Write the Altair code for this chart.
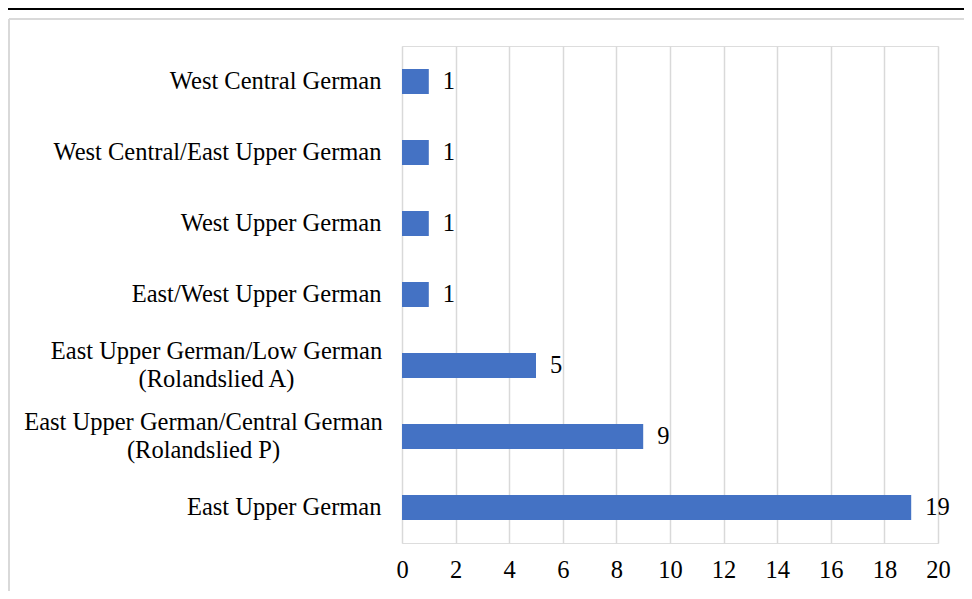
import altair as alt
import pandas as pd

categories = [
    "West Central German",
    "West Central/East Upper German",
    "West Upper German",
    "East/West Upper German",
    "East Upper German/Low German\n(Rolandslied A)",
    "East Upper German/Central German\n(Rolandslied P)",
    "East Upper German",
]
values = [1, 1, 1, 1, 5, 9, 19]
x_ticks = list(range(0, 21, 2))

df = pd.DataFrame({"cat": categories, "val": values})
FONT = "Liberation Serif"
FS = 24.5

W, H = 536, 497
PL, PT = 394, 38

multi = "indexof(datum.value, '\\n') >= 0"
lab_A = "indexof(datum.value, 'Rolandslied A') >= 0"
lab_P = "indexof(datum.value, 'Rolandslied P') >= 0"

y_enc = alt.Y("cat:N", sort=categories, title=None,
              axis=alt.Axis(labelExpr="split(datum.label, '\\n')", labelFont=FONT,
                            labelFontSize=FS, labelColor="#000", labelLineHeight=28,
                            labelAlign={"condition": {"test": multi, "value": "center"}, "value": "right"},
                            labelOffset={"condition": {"test": multi, "value": -14}, "value": 0},
                            labelPadding={"condition": [{"test": lab_A, "value": 186},
                                                        {"test": lab_P, "value": 199}],
                                          "value": 21},
                            domain=False, ticks=False, grid=False, labelLimit=500))
x_enc = alt.X("val:Q", title=None, scale=alt.Scale(domain=[0, 20], nice=False),
              axis=alt.Axis(values=x_ticks, labelFont=FONT, labelFontSize=FS,
                            labelColor="#000", labelPadding=15, domain=False,
                            ticks=False, grid=True, gridColor="#d9d9d9",
                            gridWidth=1.5, labelFlush=False))

bars = alt.Chart(df).mark_bar(color="#4472C4", size=25).encode(x=x_enc, y=y_enc)
labels = alt.Chart(df).mark_text(align="left", baseline="middle", dx=14,
                                 font=FONT, fontSize=FS, color="#000").encode(
    x="val:Q", y=alt.Y("cat:N", sort=categories), text="val:Q")

frame_df = pd.DataFrame({"k": [0]})
top_line = alt.Chart(frame_df).mark_rule(color="#000", strokeWidth=2).encode(
    x=alt.value(-PL), x2=alt.value(W + 60), y=alt.value(-PT + 1))
border_top = alt.Chart(frame_df).mark_rule(color="#d9d9d9", strokeWidth=2).encode(
    x=alt.value(-PL + 1), x2=alt.value(W + 60), y=alt.value(-PT + 11))
border_left = alt.Chart(frame_df).mark_rule(color="#d9d9d9", strokeWidth=2).encode(
    x=alt.value(-PL + 1), y=alt.value(-PT + 11), y2=alt.value(H + 100))

chart = alt.layer(bars, labels, top_line, border_top, border_left).properties(
    width=W, height=H, autosize="none",
    padding={"left": PL, "top": PT, "right": 972 - 16 - PL - W, "bottom": 599 - 16 - PT - H},
).configure_view(stroke=None).configure(background="white")

chart.save("out.html", embed_options={"renderer": "svg", "actions": False})
